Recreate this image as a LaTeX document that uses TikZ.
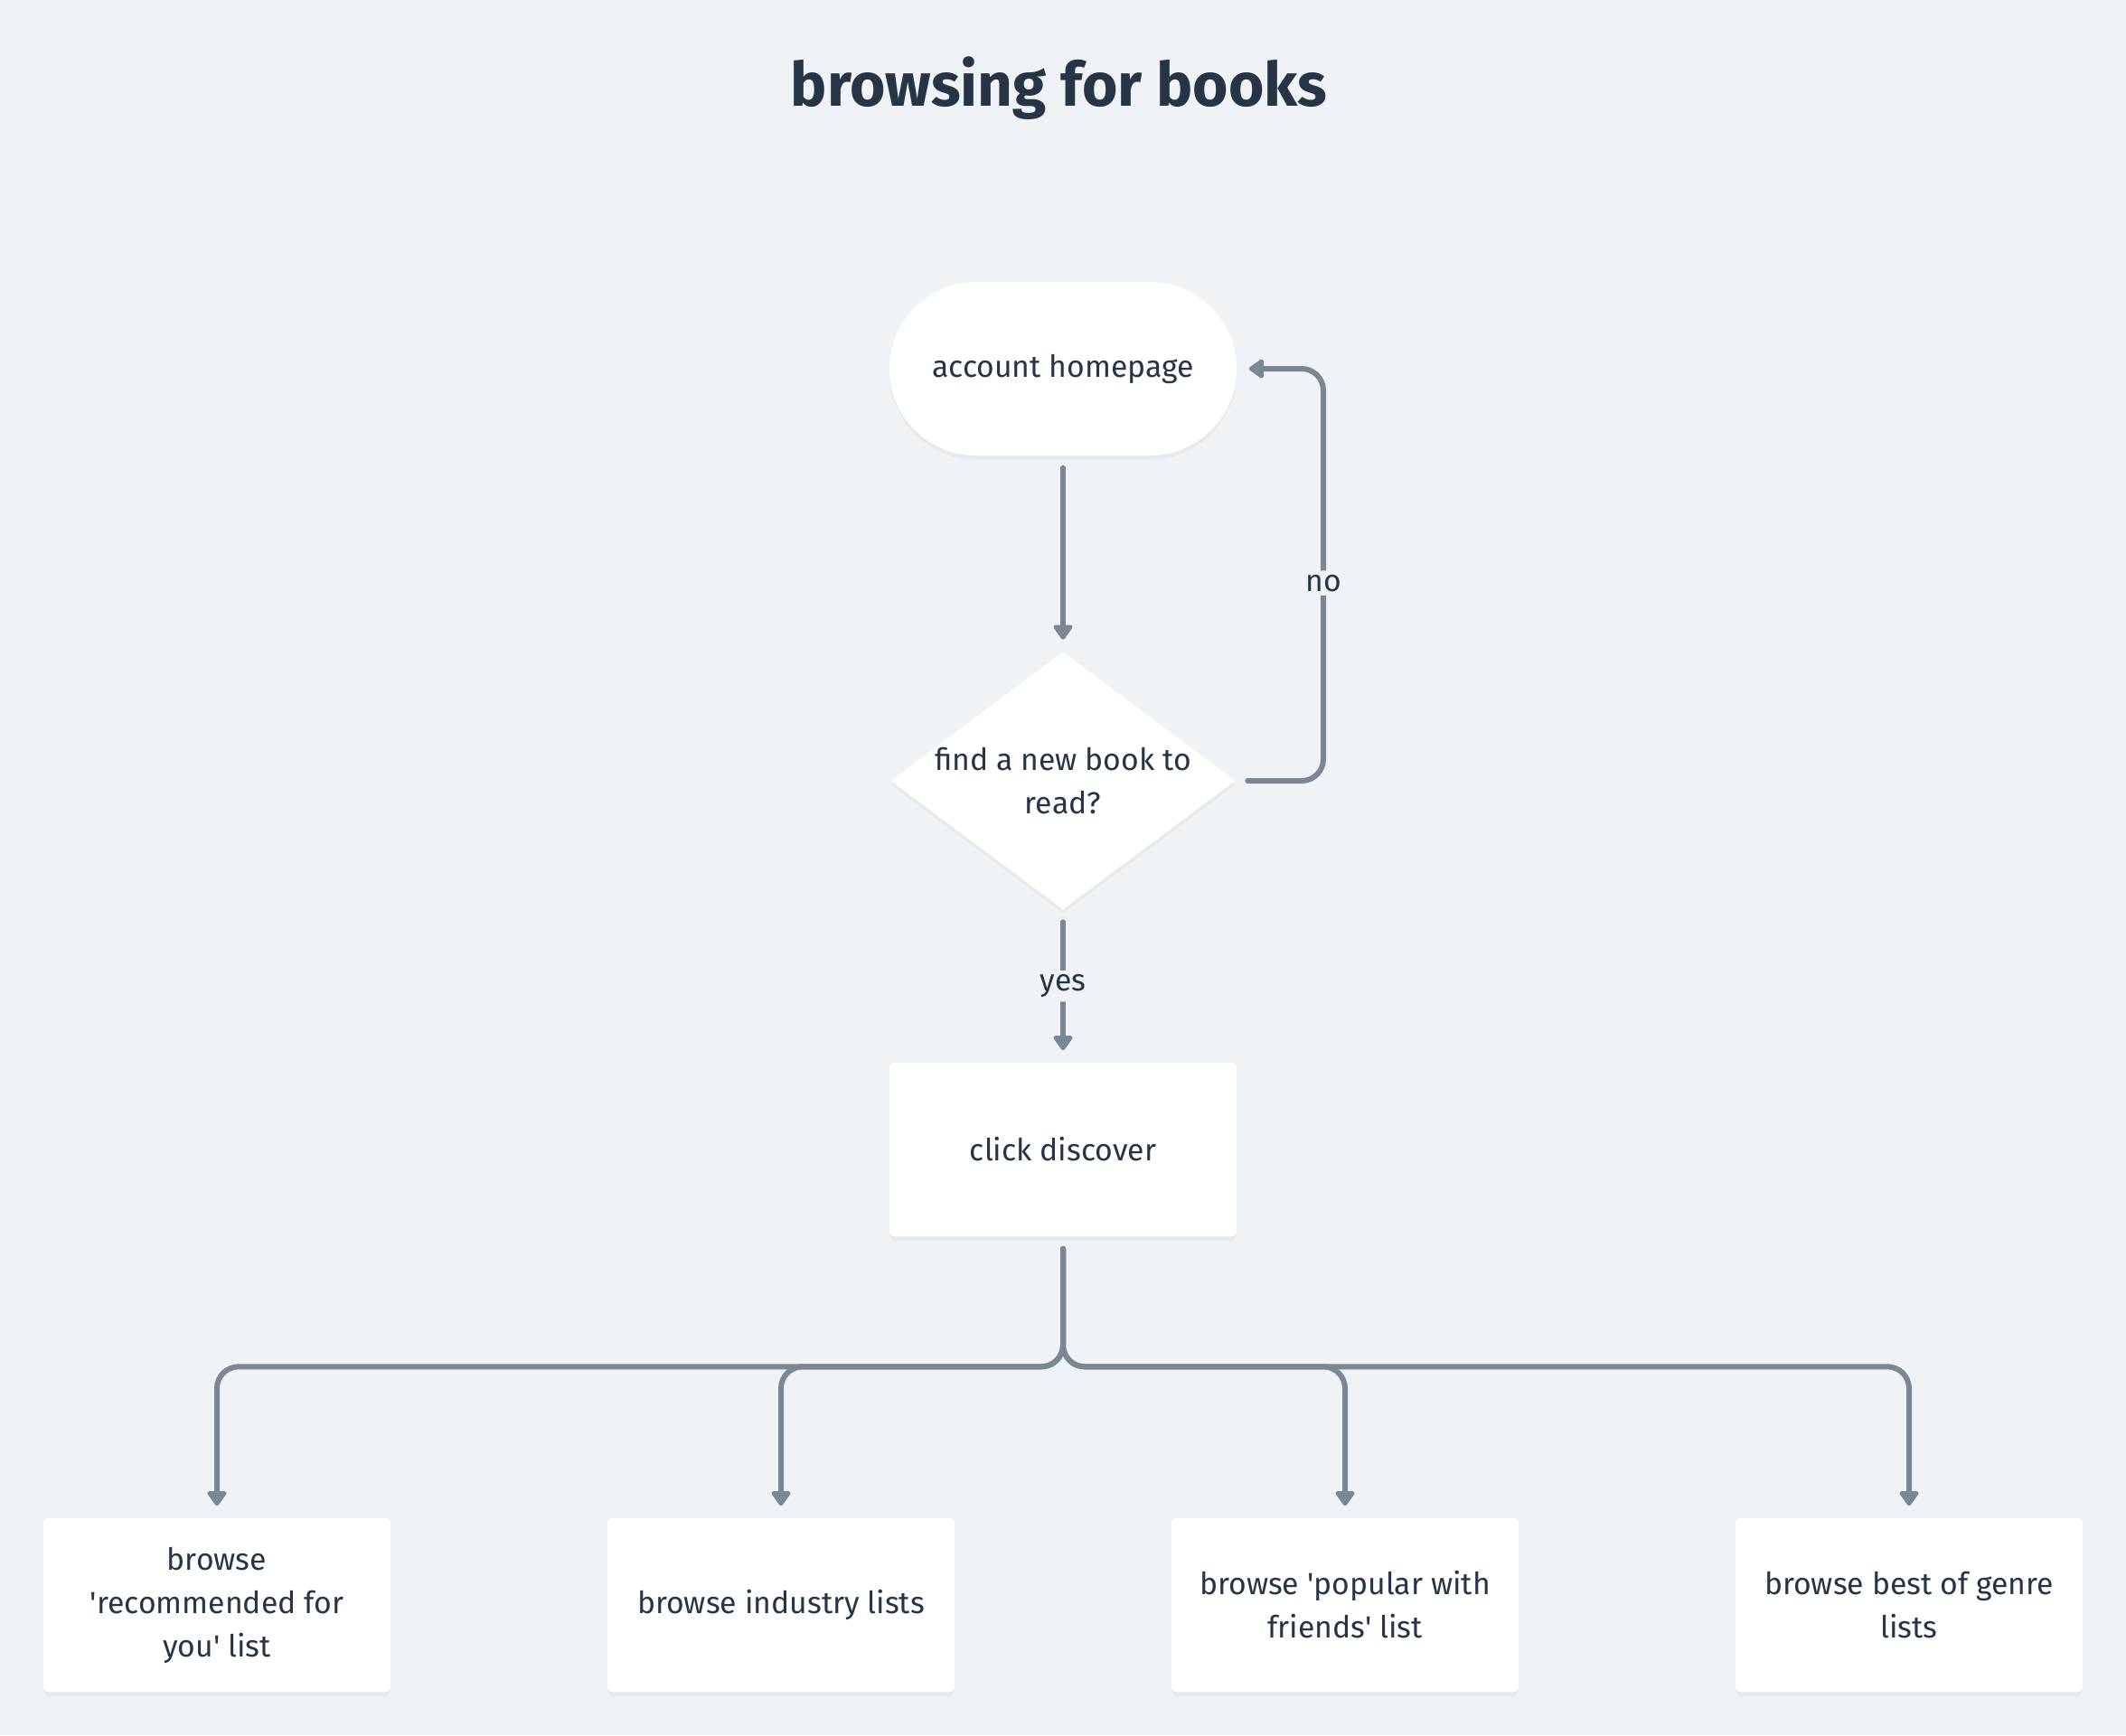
\documentclass[tikz,border=0pt]{standalone}
\usepackage{fontspec}
\setmainfont{Fira Sans}
\usetikzlibrary{arrows.meta,shapes.geometric,shadows}
\definecolor{bgc}{HTML}{EFF3F6}
\definecolor{linec}{HTML}{7A8896}
\definecolor{txtc}{HTML}{253545}
\tikzset{
  softshadow/.style={drop shadow={shadow xshift=0pt, shadow yshift=-3pt, opacity=0.03, fill=black}},
  box/.style={fill=white, minimum width=256pt, minimum height=128pt, rounded corners=4pt,
    align=center, text=txtc, font=\fontsize{22.5}{32}\selectfont, softshadow},
  pill/.style={box, rounded corners=64pt},
  ask/.style={diamond, fill=white, minimum width=254pt, minimum height=190pt, inner sep=0pt, softshadow},
  txt/.style={align=center, text=txtc, font=\fontsize{22.5}{32}\selectfont},
  lbl/.style={txt, fill=bgc, inner sep=3pt},
  conn/.style={draw=linec, line width=4pt, line cap=round, rounded corners=16pt,
    shorten <=9pt, shorten >=9pt, -{Triangle[width=16pt,length=12pt,round]}}
}
\begin{document}
\begin{tikzpicture}[x=1pt, y=-1pt]
    \fill[bgc] (0,0) rectangle (1568,1280);
    \node[txt, font=\fontsize{45}{54}\selectfont\bfseries] (title) at (781,65) {browsing for books};

    % main column
    \node[pill] (home) at (784,272) {account homepage};
    \node[ask] (find) at (784,576) {};
    \node[txt] (findtxt) at (find) {find a new book to\\read?};
    \node[box] (disc) at (784,848) {click discover};

    % bottom row
    \node[box] (rec) at (160,1184) {browse\\\textquotesingle recommended for\\you\textquotesingle{} list};
    \node[box] (ind) at (576,1184) {browse industry lists};
    \node[box] (pop) at (992,1184) {browse \textquotesingle popular with\\friends\textquotesingle{} list};
    \node[box] (gen) at (1408,1184) {browse best of genre\\lists};

    % connectors
    \draw[conn] (home.south) -- (find.north);
    \coordinate (noturn) at (976,576);
    \draw[conn] (find.east) -- (noturn) |- node[lbl, pos=0.24] {no} (home.east);
    \draw[conn] (find.south) -- node[lbl] {yes} (disc.north);
    \foreach \n in {rec,ind,pop,gen}
        \draw[conn] (disc.south) -- ++(0,96) -| (\n.north);
\end{tikzpicture}
\end{document}
